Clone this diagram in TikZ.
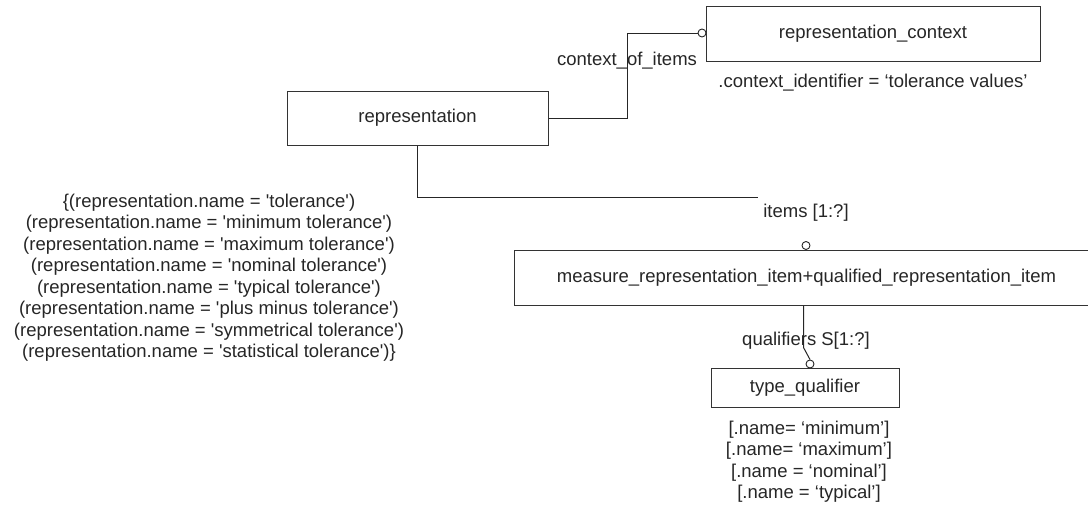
\documentclass[tikz,border=0pt]{standalone}
\usepackage{fontspec}
\setmainfont{Liberation Sans}
\newcommand\sq{\textquotesingle}
\begin{document}
\begin{tikzpicture}[x=1pt,y=-1pt,
  every node/.style={font=\fontsize{18.5}{21.5}\selectfont, text=black!85},
  entity/.style={draw=black!80, line width=1pt, inner sep=0pt},
  link/.style={draw=black!85, line width=1pt},
  ring/.style={circle, draw=black!85, fill=white, line width=0.9pt, minimum size=8pt, inner sep=0pt},
  note/.style={align=center, inner sep=0pt}]
\useasboundingbox (0,0) rectangle (1088,514);

% entities
\node[entity, minimum width=334pt, minimum height=55pt] (ctx) at (873,33.5) {representation\_context};
\node[entity, minimum width=261pt, minimum height=54pt] (rep) at (417.5,118) {representation};
\node[entity, minimum width=584pt, minimum height=55pt, anchor=west] (mri) at (514,277.5)
  {measure\_representation\_item+qualified\_representation\_item};
\node[entity, minimum width=188pt, minimum height=39pt] (tq) at (805,387.5) {type\_qualifier};

% relationship ends
\node[ring] (ctxend) at (702,33) {};
\node[ring] (itemsend) at (806,245.5) {};
\node[ring] (qualend) at (810,364) {};
\coordinate (itemsfree) at (758,197);

% relationships
\draw[link] (rep.east) -- ++(79,0) |- (ctxend.west);
\draw[link] (rep.south) |- (itemsfree);
\draw[link] ([xshift=-3pt]mri.south) -- ++(0,42) -- (qualend.north);

% role labels
\node[note] (ctxlbl) at (627,61) {context\_of\_items};
\node[note] (itemslbl) at (806,213) {items [1:?]};
\node[note] (quallbl) at (806,341) {qualifiers S[1:?]};

% attribute values and rules
\node[note] (ctxid) at (873,83) {.context\_identifier = ‘tolerance values’};
\node[note] (rule) at (209,277.5) {%
  \{(representation.name = \sq tolerance\sq)\\
  (representation.name = \sq minimum tolerance\sq)\\
  (representation.name = \sq maximum tolerance\sq)\\
  (representation.name = \sq nominal tolerance\sq)\\
  (representation.name = \sq typical tolerance\sq)\\
  (representation.name = \sq plus minus tolerance\sq)\\
  (representation.name = \sq symmetrical tolerance\sq)\\
  (representation.name = \sq statistical tolerance\sq)\}};
\node[note] (tqnames) at (809,461.5) {%
  {[}.name= ‘minimum’{]}\\
  {[}.name= ‘maximum’{]}\\
  {[}.name = ‘nominal’{]}\\
  {[}.name = ‘typical’{]}};
\end{tikzpicture}
\end{document}
